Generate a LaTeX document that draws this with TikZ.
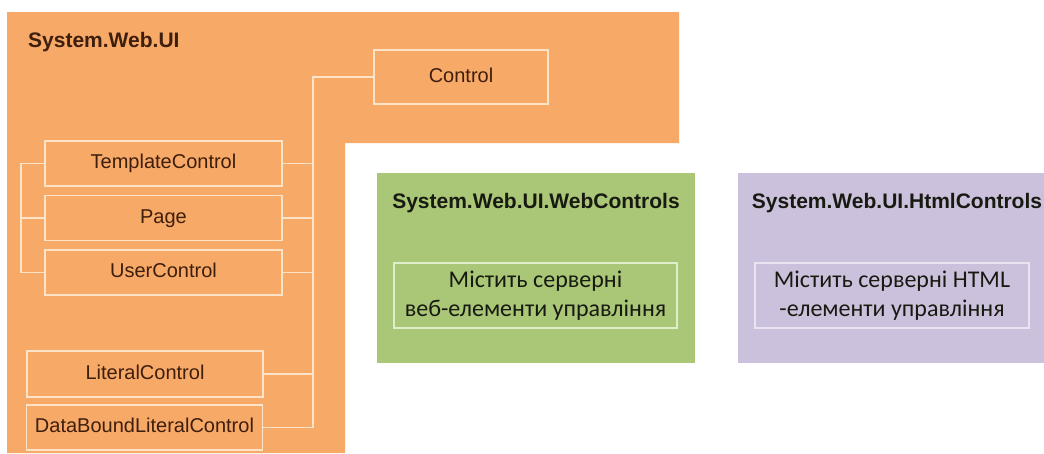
\documentclass[tikz,border=0pt]{standalone}
\usepackage{fontspec}
\setmainfont{Liberation Sans}
\newfontfamily\calfont{Carlito}
\definecolor{orfill}{RGB}{247,169,104}
\definecolor{cream}{RGB}{253,228,200}
\definecolor{brown}{RGB}{62,30,12}
\definecolor{grfill}{RGB}{169,199,118}
\definecolor{grline}{RGB}{224,237,202}
\definecolor{pufill}{RGB}{204,193,220}
\definecolor{puline}{RGB}{234,228,242}
\definecolor{darktxt}{RGB}{24,26,18}
\tikzset{
  cbox/.style={draw=cream, line width=1.8pt, minimum width=237pt, minimum height=45pt,
    inner sep=0pt, font=\fontsize{20}{22}\selectfont, text=brown, text height=14pt, text depth=4pt},
  conn/.style={draw=cream, line width=1.8pt},
  title/.style={inner sep=0pt, font=\fontsize{21}{24}\selectfont\bfseries},
  inner/.style={line width=1.5pt, inner sep=0pt, align=center,
    font=\calfont\fontsize{24}{29}\selectfont, text=darktxt},
}
\begin{document}
\begin{tikzpicture}[x=1pt,y=-1pt]
\useasboundingbox (0,0) rectangle (1044,453);
\fill[white] (0,0) rectangle (1044,453);
% orange L-shaped region
\fill[orfill] (7,12) -- (679,12) -- (679,143) -- (345,143) -- (345,453) -- (7,453) -- cycle;
\node[title, text=brown, anchor=base west] (sys) at (28,47) {System.Web.UI};
% boxes
\node[cbox, minimum width=174pt, minimum height=54pt] (ctrl) at (461,77) {Control};
\node[cbox] (tc) at (163.5,163.5) {TemplateControl};
\node[cbox] (pg) at (163.5,218) {Page};
\node[cbox] (uc) at (163.5,272.5) {UserControl};
\node[cbox, minimum width=236pt, minimum height=46pt] (lc) at (145,374) {LiteralControl};
\node[cbox, minimum width=236pt] (dbl) at (144.5,427.5) {DataBoundLiteralControl};
% connectors
\coordinate (tk) at (313,0);
\coordinate (lb) at (21,0);
\draw[conn] (ctrl.west) -| (dbl.east -| tk);
\draw[conn] (tc.east) -- (tc.east -| tk);
\draw[conn] (pg.east) -- (pg.east -| tk);
\draw[conn] (uc.east) -- (uc.east -| tk);
\draw[conn] (lc.east) -- (lc.east -| tk);
\draw[conn] (dbl.east) -- (dbl.east -| tk);
\draw[conn] (tc.west) -| (uc.west -| lb) -- (uc.west);
\draw[conn] (pg.west) -- (pg.west -| lb);
% green panel
\fill[grfill] (377,173) rectangle (695,363);
\node[title, text=darktxt] (wct) at (536,203) {System.Web.UI.WebControls};
\node[inner, draw=grline, minimum width=283pt, minimum height=65pt] (wcb) at (535.5,295.5)
  {Містить серверні\\веб-елементи управління};
% purple panel
\fill[pufill] (738,173) rectangle (1044,363);
\node[title, text=darktxt] (hct) at (897,203) {System.Web.UI.HtmlControls};
\node[inner, draw=puline, minimum width=274pt, minimum height=65pt] (hcb) at (892,295.5)
  {Містить серверні HTML\\-елементи управління};
\end{tikzpicture}
\end{document}
